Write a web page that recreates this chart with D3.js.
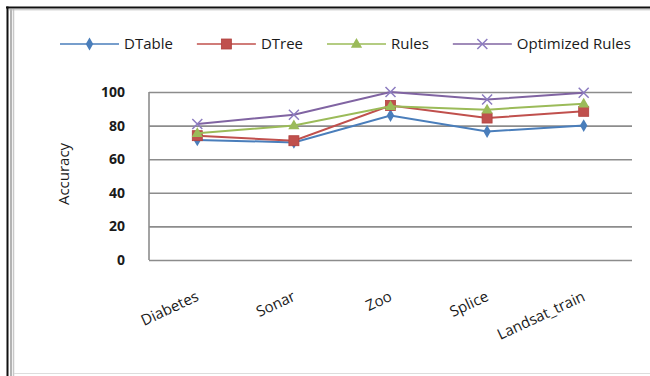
<!DOCTYPE html>
<html>
<head>
<meta charset="utf-8">
<script src="https://cdn.jsdelivr.net/npm/d3@7"></script>
<style>
  html, body { margin: 0; padding: 0; background: #fff; }
  svg { display: block; }
  text { font-family: "Open Sans", "Noto Sans", sans-serif; fill: #1a1a1a; }
</style>
</head>
<body>
<svg id="chart" width="650" height="376"></svg>
<script>
// Data: average accuracy of four classifiers over five datasets
const categories = ["Diabetes", "Sonar", "Zoo", "Splice", "Landsat_train"];
const seriesNames = ["DTable", "DTree", "Rules", "Optimized Rules"];
const dtable = [71.5, 70, 86, 76.5, 80];
const dtree = [74, 71, 92, 84.5, 88.5];
const rules = [75.5, 80, 91.5, 89.5, 93];
const optimizedRules = [81, 86.5, 100, 95.5, 99.5];
const yTicks = [0, 20, 40, 60, 80, 100];

const seriesValues = [dtable, dtree, rules, optimizedRules];
const colors = ["#4a7ebb", "#c0504d", "#9bbb59", "#8064a2"];
const markerTypes = ["diamond", "square", "triangle", "cross"];

const svg = d3.select("#chart");
const W = 650, H = 376;
const plot = { left: 149, right: 632, top: 92, bottom: 260 };

// Outer frame: black border, with doubled grey rule inside on the left
svg.append("rect").attr("x", 0).attr("y", 0).attr("width", W).attr("height", H).attr("fill", "#fff");
svg.append("line").attr("x1", 6).attr("x2", W).attr("y1", 7.5).attr("y2", 7.5)
  .attr("stroke", "#111").attr("stroke-width", 2);
svg.append("line").attr("x1", 7.5).attr("x2", 7.5).attr("y1", 6.5).attr("y2", H)
  .attr("stroke", "#111").attr("stroke-width", 2);
svg.append("line").attr("x1", 11).attr("x2", 11).attr("y1", 9).attr("y2", H)
  .attr("stroke", "#9a9a9a").attr("stroke-width", 1.5);
svg.append("line").attr("x1", 13.5).attr("x2", 13.5).attr("y1", 9).attr("y2", H)
  .attr("stroke", "#c8c8c8").attr("stroke-width", 1.5);
svg.append("line").attr("x1", 9).attr("x2", W).attr("y1", 9.8).attr("y2", 9.8)
  .attr("stroke", "#bdbdbd").attr("stroke-width", 1);
svg.append("line").attr("x1", 14).attr("x2", W).attr("y1", 373.5).attr("y2", 373.5)
  .attr("stroke", "#dddddd").attr("stroke-width", 1);

// Scales
const x = d3.scalePoint().domain(categories).range([plot.left, plot.right]).padding(0.5);
const y = d3.scaleLinear().domain([0, 100]).range([plot.bottom, plot.top]);

// Horizontal gridlines and value labels
const yAxis = d3.axisLeft(y).tickValues(yTicks).tickSize(-(plot.right - plot.left)).tickPadding(24).tickFormat(d3.format("d"));
const gy = svg.append("g").attr("transform", `translate(${plot.left},0)`).call(yAxis);
gy.select(".domain").remove();
gy.selectAll(".tick line").attr("stroke", "#8c8c8c").attr("stroke-width", 1.6);
gy.selectAll(".tick text")
  .attr("font-size", 14).attr("font-weight", "bold").attr("fill", "#1a1a1a")
  .style("font-family", "'Open Sans', sans-serif");

// Vertical axis line
svg.append("line").attr("x1", plot.left).attr("x2", plot.left)
  .attr("y1", y(100)).attr("y2", y(0)).attr("stroke", "#8c8c8c").attr("stroke-width", 1.6);

// Category labels, slanted
const gx = svg.append("g").attr("transform", `translate(0,${plot.bottom})`)
  .call(d3.axisBottom(x).tickSize(0).tickPadding(0));
gx.select(".domain").remove();
gx.selectAll(".tick text")
  .attr("font-size", 15).attr("fill", "#1a1a1a")
  .style("font-family", "'Open Sans', sans-serif")
  .attr("text-anchor", "end")
  .attr("dy", 0)
  .attr("transform", "translate(2,40) rotate(-25)")
  .attr("y", 0).attr("x", 0);

// Axis title
svg.append("text")
  .attr("transform", `translate(69,174) rotate(-90)`)
  .attr("text-anchor", "middle")
  .attr("font-size", 15)
  .text("Accuracy");

// Marker shapes
function drawMarker(g, type, color, cx, cy) {
  if (type === "diamond") {
    g.append("path").attr("d", d3.symbol(d3.symbolDiamond, 48)())
      .attr("transform", `translate(${cx},${cy})`).attr("fill", color);
  } else if (type === "square") {
    g.append("rect").attr("x", cx - 5).attr("y", cy - 5).attr("width", 10).attr("height", 10)
      .attr("fill", color).attr("stroke", "#b0413e").attr("stroke-width", 0.8);
  } else if (type === "triangle") {
    g.append("path").attr("d", d3.symbol(d3.symbolTriangle, 55)())
      .attr("transform", `translate(${cx},${cy + 0.5})`).attr("fill", color);
  } else {
    g.append("path").attr("d", `M${cx - 5},${cy - 5}L${cx + 5},${cy + 5}M${cx - 5},${cy + 5}L${cx + 5},${cy - 5}`)
      .attr("stroke", "#8c7cc0").attr("stroke-width", 1.5).attr("fill", "none");
  }
}

// Series lines and markers
const line = d3.line().x((d, i) => x(categories[i])).y(d => y(d));
seriesValues.forEach((vals, s) => {
  const g = svg.append("g");
  g.append("path").datum(vals).attr("d", line)
    .attr("fill", "none").attr("stroke", colors[s]).attr("stroke-width", 2);
  vals.forEach((v, i) => drawMarker(g, markerTypes[s], colors[s], x(categories[i]), y(v)));
});

// Legend laid out left to right
const legend = svg.append("g").attr("transform", "translate(60,44)");
let lx = 0;
seriesNames.forEach((name, s) => {
  const item = legend.append("g").attr("transform", `translate(${lx},0)`);
  item.append("line").attr("x1", 0).attr("x2", 59).attr("y1", 0).attr("y2", 0)
    .attr("stroke", colors[s]).attr("stroke-width", 1.6);
  drawMarker(item, markerTypes[s], colors[s], 29.5, 0);
  const t = item.append("text").attr("x", 64).attr("y", 0).attr("dy", "0.35em")
    .attr("font-size", 15).text(name);
  lx += 64 + t.node().getComputedTextLength() + 24;
});
</script>
</body>
</html>
